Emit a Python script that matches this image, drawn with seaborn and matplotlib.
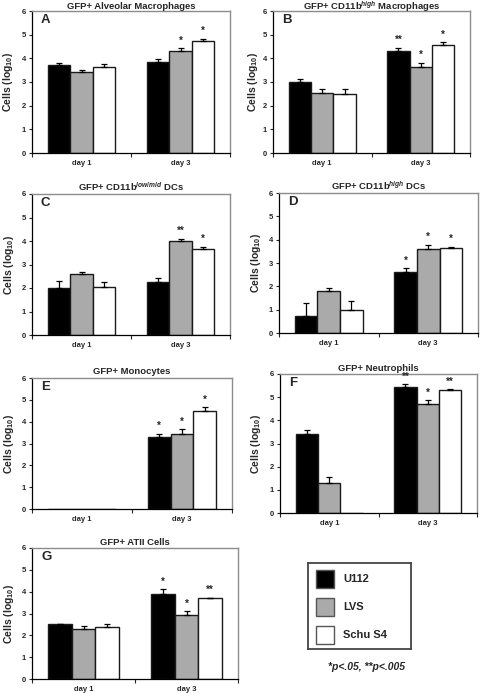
import matplotlib
matplotlib.use("Agg")
import matplotlib.pyplot as plt
import numpy as np
import pandas as pd
import seaborn as sns
from matplotlib.patches import Rectangle

sns.set_style("white")
plt.rcParams['font.family'] = ['Liberation Sans', 'DejaVu Sans']
plt.rcParams['font.weight'] = 'bold'
plt.rcParams['mathtext.fontset'] = 'custom'
plt.rcParams['mathtext.rm'] = 'Liberation Sans:bold'
plt.rcParams['mathtext.it'] = 'Liberation Sans:italic:bold'
plt.rcParams['mathtext.bf'] = 'Liberation Sans:bold'

days = ["day 1", "day 3"]
strains = ["U112", "LVS", "Schu S4"]
strain_colors = ["#000000", "#aaaaaa", "#ffffff"]

# order in each list: day1 (U112, LVS, Schu S4), day3 (U112, LVS, Schu S4)
alv_mean = [3.70, 3.42, 3.65, 3.85, 4.32, 4.72]
alv_err = [0.10, 0.10, 0.12, 0.13, 0.10, 0.10]
alv_sig = ["", "", "", "", "*", "*"]

macro_mean = [3.00, 2.52, 2.50, 4.30, 3.62, 4.55]
macro_err = [0.12, 0.18, 0.22, 0.13, 0.20, 0.12]
macro_sig = ["", "", "", "**", "*", "*"]

dclow_mean = [2.00, 2.58, 2.05, 2.25, 3.98, 3.68]
dclow_err = [0.30, 0.12, 0.22, 0.18, 0.10, 0.06]
dclow_sig = ["", "", "", "", "**", "*"]

dchigh_mean = [0.75, 1.80, 1.00, 2.60, 3.58, 3.65]
dchigh_err = [0.52, 0.12, 0.38, 0.17, 0.20, 0.05]
dchigh_sig = ["", "", "", "*", "*", "*"]

mono_mean = [0.0, 0.0, 0.0, 3.30, 3.45, 4.50]
mono_err = [0.0, 0.0, 0.0, 0.15, 0.20, 0.15]
mono_sig = ["", "", "", "*", "*", "*"]

neut_mean = [3.42, 1.30, 0.0, 5.45, 4.70, 5.30]
neut_err = [0.15, 0.25, 0.0, 0.10, 0.17, 0.04]
neut_sig = ["", "", "", "**", "*", "**"]

atii_mean = [2.50, 2.28, 2.38, 3.90, 2.93, 3.70]
atii_err = [0.03, 0.15, 0.12, 0.20, 0.17, 0.03]
atii_sig = ["", "", "", "*", "*", "**"]

titles = [
    "GFP+ Alveolar Macrophages",
    "GFP+ CD11b$^{high}$ Macrophages",
    "GFP+ CD11b$^{low/mid}$ DCs",
    "GFP+ CD11b$^{high}$ DCs",
    "GFP+ Monocytes",
    "GFP+ Neutrophils",
    "GFP+ ATII Cells",
]
letters = ["A", "B", "C", "D", "E", "F", "G"]

panels = [
    (alv_mean, alv_err, alv_sig),
    (macro_mean, macro_err, macro_sig),
    (dclow_mean, dclow_err, dclow_sig),
    (dchigh_mean, dchigh_err, dchigh_sig),
    (mono_mean, mono_err, mono_sig),
    (neut_mean, neut_err, neut_sig),
    (atii_mean, atii_err, atii_sig),
]

# axes boxes in pixels: left, top, right, bottom ; ylabel right-edge x pixel ; title pad
W, H = 480, 693
boxes = [
    (32, 11, 230, 153, 15, 1.5),
    (273, 11, 470, 153, 260, 0.5),
    (32, 194, 230, 335, 16, 2.5),
    (279, 193, 478, 333, 263, 2.5),
    (32, 378, 232, 509, 16, 3),
    (280, 374, 477, 513, 263, 2.5),
    (32, 548, 238, 679, 16, 2.5),
]

fig = plt.figure(figsize=(W / 100, H / 100), dpi=100)


def draw_panel(ax, letter, title, mean, err, sig, ylab_px, left_px, tpad):
    df = pd.DataFrame({"day": np.repeat(days, 3), "strain": strains * 2, "cells": mean})
    sns.barplot(data=df, x="day", y="cells", hue="strain", hue_order=strains,
                palette=strain_colors, width=0.68, gap=0, errorbar=None,
                edgecolor="#1a1a1a", linewidth=1.0, legend=False, ax=ax)
    bar_conts = list(ax.containers)
    for h, cont in enumerate(bar_conts):
        for d, bar in enumerate(cont):
            i = d * 3 + h
            x = bar.get_x() + bar.get_width() / 2
            if err[i] > 0:
                ax.errorbar(x, mean[i], yerr=[[0], [err[i]]], fmt="none",
                            ecolor="black", elinewidth=0.9, capsize=2.3, capthick=0.9)
            if sig[i]:
                ax.text(x, mean[i] + err[i] + 0.12, sig[i], ha="center", va="bottom",
                        fontsize=7, fontweight="bold")
    ax.set_ylim(0, 6)
    ax.set_xlim(-0.5, 1.5)
    ax.set_yticks(range(7))
    ax.set_yticklabels([str(v) for v in range(7)], fontsize=5.5, fontweight="bold")
    ax.set_xticks([0, 1])
    ax.set_xticklabels(days, fontsize=5.5, fontweight="bold")
    ax.set_xticks([-0.5, 0.5, 1.5], minor=True)
    ax.tick_params(axis="x", which="major", length=0, pad=5)
    ax.tick_params(axis="x", which="minor", length=3, width=0.8, direction="out", bottom=True)
    ax.tick_params(axis="y", length=2.5, width=0.8, direction="out", left=True, pad=2)
    ax.set_xlabel("")
    ax.set_ylabel("Cells (log$_{10}$)", fontsize=7.5, fontweight="bold")
    bb = ax.get_position()
    ax.yaxis.set_label_coords((ylab_px - left_px) / (bb.width * W), 0.5)
    for s in ["left", "bottom"]:
        ax.spines[s].set_color("black")
        ax.spines[s].set_linewidth(0.9)
    for s in ["top", "right"]:
        ax.spines[s].set_color("#8c8c8c")
        ax.spines[s].set_linewidth(1.0)
    ax.set_title(title, fontsize=6.8, fontweight="bold", pad=tpad)
    ax.text(0.045, 0.935, letter, transform=ax.transAxes, ha="left", va="center",
            fontsize=9.5, fontweight="bold")


for k in range(7):
    l, t, r, b, yl, tp = boxes[k]
    ax = fig.add_axes([l / W, 1 - b / H, (r - l) / W, (b - t) / H])
    mean, err, sig = panels[k]
    draw_panel(ax, letters[k], titles[k], mean, err, sig, yl, l, tp)

# legend box
lg = fig.add_axes([308 / W, 1 - 649 / H, 103 / W, 86 / H])
lg.set_xlim(0, 1)
lg.set_ylim(0, 1)
lg.set_xticks([])
lg.set_yticks([])
for s in lg.spines.values():
    s.set_color("#444444")
    s.set_linewidth(1.3)
for i, (name, col) in enumerate(zip(strains, strain_colors)):
    yc = 0.814 - i * 0.326
    lg.add_patch(Rectangle((0.078, yc - 0.105), 0.175, 0.21, facecolor=col,
                           edgecolor="#555555", linewidth=1.0))
    lg.text(0.34, yc, name, ha="left", va="center", fontsize=8, fontweight="bold")

fig.text(367 / W, 1 - 667 / H, "*p<.05, **p<.005", ha="center", va="center",
         fontsize=7.5, fontweight="bold", style="italic")

fig.savefig("out.png", dpi=100)
